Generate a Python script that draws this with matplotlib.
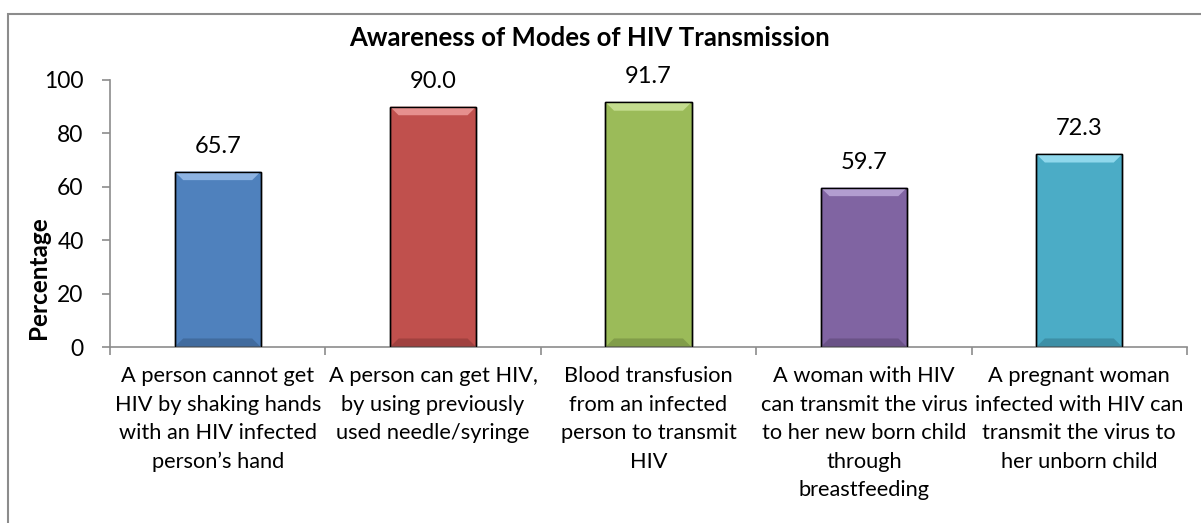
import matplotlib
matplotlib.use("Agg")
import matplotlib.pyplot as plt
from matplotlib.patches import Polygon, Rectangle
import numpy as np

categories = [
    "A person cannot get\nHIV by shaking hands\nwith an HIV infected\nperson\u2019s hand",
    "A person can get HIV,\nby using previously\nused needle/syringe",
    "Blood transfusion\nfrom an infected\nperson to transmit\nHIV",
    "A woman with HIV\ncan transmit the virus\nto her new born child\nthrough\nbreastfeeding",
    "A pregnant woman\ninfected with HIV can\ntransmit the virus to\nher unborn child",
]
values = [65.7, 90.0, 91.7, 59.7, 72.3]
colors = ["#4F81BD", "#C0504D", "#9BBB59", "#8064A2", "#4BACC6"]
light = ["#8DB3E2", "#E6908E", "#C3DC8E", "#B29DD0", "#8FD8EC"]
dark = ["#385D8A", "#8C3836", "#71893F", "#5C4776", "#357D91"]
title = "Awareness of Modes of HIV Transmission"
ylabel = "Percentage"
yticks = [0, 20, 40, 60, 80, 100]

plt.rcParams['font.family'] = ['Lato', 'DejaVu Sans']

fig = plt.figure(figsize=(12.01, 5.23), dpi=100)
# outer chart border
fig.patches.append(Rectangle((8/1201, -0.05), 1.2, 1 - 14/523 + 0.05, transform=fig.transFigure,
                             fill=False, edgecolor="#8C8C8C", linewidth=1.5, zorder=0))

ax = fig.add_axes([110/1201, 1 - 347/523, (1187-110)/1201, (347-80)/523])
x = np.arange(len(values))
bars = ax.bar(x, values, width=0.4, color=colors, edgecolor="black", linewidth=1.0, zorder=2)

# bevel effect derived from bar geometry
bh = 3.2
bw = 0.04
for b, lc, dc in zip(bars, light, dark):
    x0 = b.get_x(); w = b.get_width(); h = b.get_height()
    top = Polygon([(x0, h), (x0 + w, h), (x0 + w - bw, h - bh), (x0 + bw, h - bh)],
                  closed=True, facecolor=lc, edgecolor="none", zorder=3)
    bot = Polygon([(x0, 0), (x0 + w, 0), (x0 + w - bw, bh), (x0 + bw, bh)],
                  closed=True, facecolor=dc, edgecolor="none", alpha=0.6, zorder=3)
    ax.add_patch(top); ax.add_patch(bot)
    ax.add_patch(Rectangle((x0, 0), w, h, fill=False, edgecolor="black", linewidth=1.0, zorder=4))
    ax.text(b.get_x() + w/2, h + 5.5, f"{h:.1f}", ha="center", va="bottom", fontsize=17, color="black")

ax.set_xlim(-0.5, len(values) - 0.5)
ax.set_ylim(0, 100)
ax.set_yticks(yticks)
ax.set_yticklabels([str(t) for t in yticks], fontsize=16.5)
ax.set_xticks(x)
ax.set_xticklabels(categories, fontsize=15.7, linespacing=1.53)
ax.tick_params(axis="x", length=0, pad=14)
ax.set_xticks(np.arange(len(values) + 1) - 0.5, minor=True)
ax.tick_params(axis="x", which="minor", length=6, color="#8C8C8C", width=1.2)
ax.tick_params(axis="y", length=6, color="#8C8C8C", width=1.2, pad=13)
for s in ["top", "right"]:
    ax.spines[s].set_visible(False)
for s in ["left", "bottom"]:
    ax.spines[s].set_color("#8C8C8C")
    ax.spines[s].set_linewidth(1.2)
ax.set_ylabel(ylabel, fontsize=17.5, fontweight="bold")
ax.yaxis.set_label_coords(-0.0557, 0.258)
fig.text(590/1201, 1 - 38/523, title, ha="center", va="center", fontsize=18.5, fontweight="bold")

fig.savefig("out.png", dpi=100)
